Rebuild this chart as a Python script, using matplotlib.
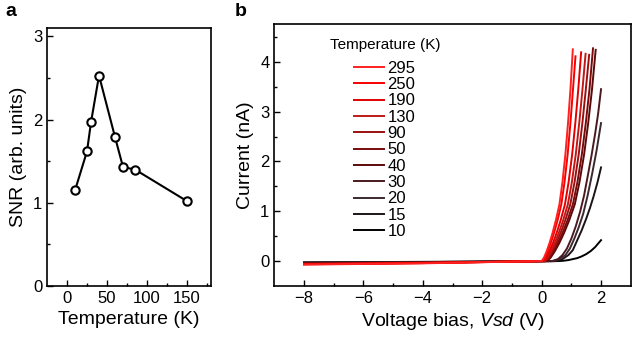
import numpy as np
import matplotlib
matplotlib.use('Agg')
from matplotlib import pyplot as plt

plt.rcParams['font.family'] = ['Liberation Sans', 'DejaVu Sans']
plt.rcParams['mathtext.fontset'] = 'custom'
plt.rcParams['mathtext.it'] = 'Liberation Sans:italic'
plt.rcParams['mathtext.rm'] = 'Liberation Sans'

# panel a: SNR vs temperature
snr_temp = [10, 25, 30, 40, 60, 70, 85, 150]
snr_vals = [1.15, 1.62, 1.97, 2.53, 1.79, 1.43, 1.40, 1.02]

# panel b: I-V curves per temperature (V in volts, I in nA)
temps = [295, 250, 190, 130, 90, 50, 40, 30, 20, 15, 10]
colors = ['#ff2020', '#f80000', '#e00000', '#c01818', '#9a1010', '#7a0a0a',
          '#5a0a0a', '#4a1a20', '#3a2a30', '#1c1416', '#000000']
v_curves = [
    [-8, -4, 0, 0.08, 0.17, 0.27, 0.37, 0.48, 0.60, 0.70, 0.80, 0.89, 0.97, 1.05],
    [-8, -4, 0.03, 0.115, 0.21, 0.315, 0.42, 0.537, 0.664, 0.77, 0.876, 0.971, 1.055, 1.14],
    [-8, -4, 0.06, 0.157, 0.266, 0.387, 0.508, 0.641, 0.786, 0.907, 1.028, 1.136, 1.233, 1.33],
    [-8, -4, 0.09, 0.196, 0.315, 0.447, 0.58, 0.725, 0.884, 1.017, 1.149, 1.268, 1.374, 1.48],
    [-8, -4, 0.12, 0.233, 0.36, 0.50, 0.642, 0.797, 0.966, 1.107, 1.248, 1.374, 1.487, 1.60],
    [-8, -4, 0.15, 0.27, 0.406, 0.556, 0.707, 0.872, 1.053, 1.203, 1.354, 1.489, 1.61, 1.73],
    [-8, -4, 0.18, 0.305, 0.446, 0.602, 0.758, 0.93, 1.117, 1.273, 1.43, 1.57, 1.695, 1.82],
    [-8, -4, 0.35, 0.55, 0.7, 0.85, 1.0, 1.15, 1.3, 1.43, 1.55, 1.68, 1.8, 1.9, 2.0],
    [-8, -4, 0.4, 0.6, 0.8, 0.95, 1.1, 1.25, 1.4, 1.55, 1.7, 1.85, 2.0],
    [-8, -4, 0.45, 0.7, 0.9, 1.05, 1.2, 1.35, 1.5, 1.63, 1.75, 1.88, 2.0],
    [-8, -4, 0.5, 0.7, 0.9, 1.05, 1.2, 1.35, 1.5, 1.65, 1.8, 1.9, 2.0],
]
i_curves = [
    [-0.07, -0.045, 0, 0.07, 0.2, 0.37, 0.57, 0.82, 1.14, 1.58, 2.14, 2.78, 3.44, 4.25],
    [-0.065, -0.04, 0, 0.07, 0.2, 0.37, 0.57, 0.82, 1.14, 1.58, 2.14, 2.78, 3.44, 4.11],
    [-0.06, -0.04, 0, 0.07, 0.2, 0.37, 0.57, 0.82, 1.14, 1.58, 2.14, 2.78, 3.44, 4.19],
    [-0.06, -0.035, 0, 0.07, 0.2, 0.37, 0.57, 0.82, 1.14, 1.58, 2.14, 2.78, 3.44, 4.16],
    [-0.055, -0.035, 0, 0.07, 0.2, 0.37, 0.57, 0.82, 1.14, 1.58, 2.14, 2.78, 3.44, 4.14],
    [-0.05, -0.03, 0, 0.07, 0.2, 0.37, 0.57, 0.82, 1.14, 1.58, 2.14, 2.78, 3.44, 4.27],
    [-0.045, -0.03, 0, 0.07, 0.2, 0.37, 0.57, 0.82, 1.14, 1.58, 2.14, 2.78, 3.44, 4.24],
    [-0.04, -0.025, 0, 0.04, 0.12, 0.25, 0.45, 0.7, 1.0, 1.32, 1.7, 2.12, 2.55, 2.95, 3.45],
    [-0.035, -0.02, 0, 0.04, 0.12, 0.25, 0.45, 0.68, 0.95, 1.32, 1.75, 2.22, 2.77],
    [-0.03, -0.02, 0, 0.04, 0.12, 0.22, 0.42, 0.62, 0.85, 1.07, 1.3, 1.58, 1.88],
    [-0.025, -0.015, 0, 0.005, 0.02, 0.04, 0.06, 0.095, 0.14, 0.2, 0.28, 0.35, 0.42],
]

fig = plt.figure(figsize=(6.32, 3.38), dpi=100)
ax1 = fig.add_axes([0.0744, 0.1538, 0.2595, 0.763])
ax2 = fig.add_axes([0.434, 0.1538, 0.564, 0.774])

# ---- panel a
ax1.plot(snr_temp, snr_vals, '-o', color='black', lw=1.5, ms=6,
         mfc='white', mec='black', mew=1.5)
ax1.set_xlim(-25, 180)
ax1.set_ylim(0, 3.1)
ax1.set_xticks([0, 50, 100, 150])
ax1.set_xticks([25, 75, 125, 175], minor=True)
ax1.set_yticks([0, 1, 2, 3])
ax1.set_yticks([0.5, 1.5, 2.5], minor=True)
ax1.set_xlabel('Temperature (K)', fontsize=14)
ax1.set_ylabel('SNR (arb. units)', fontsize=14)

# ---- panel b
lines = []
for k in range(len(temps) - 1, -1, -1):
    ln, = ax2.plot(v_curves[k], i_curves[k], color=colors[k], lw=1.4,
                   label=str(temps[k]))
    lines.append(ln)
lines = lines[::-1]
ax2.set_xlim(-9, 3)
ax2.set_ylim(-0.5, 4.75)
ax2.set_xticks([-8, -6, -4, -2, 0, 2])
ax2.set_xticks([-7, -5, -3, -1, 1], minor=True)
ax2.set_yticks([0, 1, 2, 3, 4])
ax2.set_yticks([0.5, 1.5, 2.5, 3.5, 4.5], minor=True)
ax2.set_xlabel('Voltage bias, $Vsd$ (V)', fontsize=14)
ax2.set_ylabel('Current (nA)', fontsize=14)
ax2.legend(handles=lines, loc='upper left', bbox_to_anchor=(0.2236, 0.861),
           frameon=False, fontsize=12, handlelength=1.8, handletextpad=0.2,
           labelspacing=0.08, borderpad=0, borderaxespad=0)
ax2.text(0.156, 0.921, 'Temperature (K)', transform=ax2.transAxes,
         fontsize=11, va='center', ha='left')

for ax in (ax1, ax2):
    ax.tick_params(which='both', direction='in', labelsize=12)
    ax.tick_params(which='major', length=4, width=1)
    ax.tick_params(which='minor', length=2.5, width=1)
    for sp in ax.spines.values():
        sp.set_linewidth(1.2)

fig.text(0.008, 0.965, 'a', fontsize=14, fontweight='bold', va='center')
fig.text(0.372, 0.965, 'b', fontsize=14, fontweight='bold', va='center')

fig.savefig('out.png', dpi=100)
